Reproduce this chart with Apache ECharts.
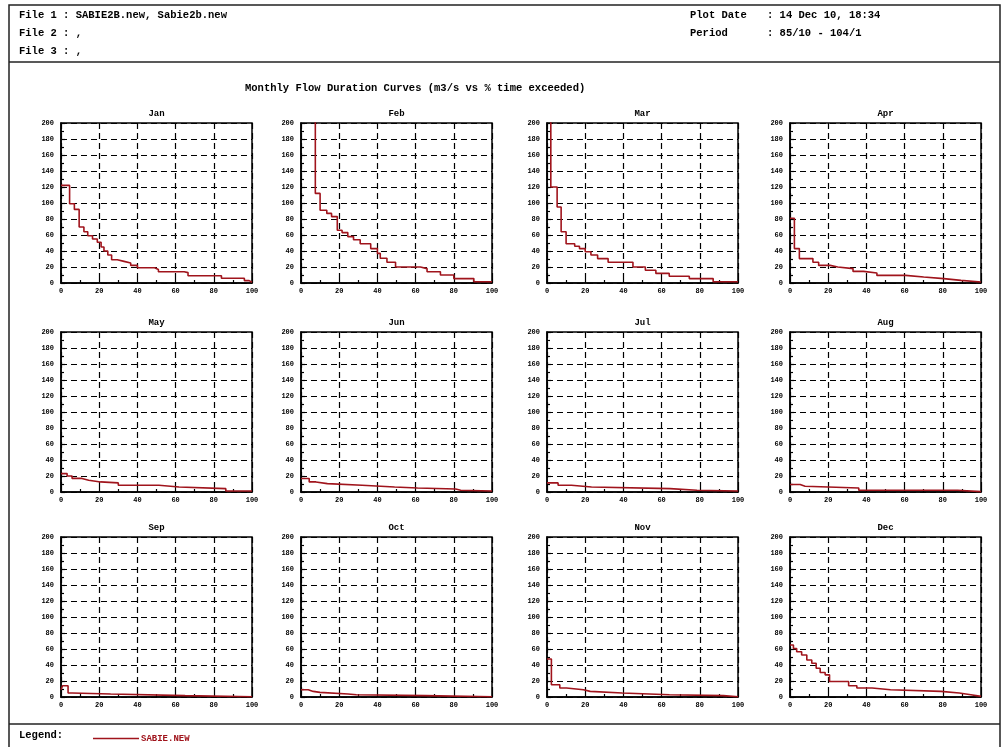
<!DOCTYPE html>
<html>
<head>
<meta charset="utf-8">
<title>Monthly Flow Duration Curves</title>
<script src="https://cdn.jsdelivr.net/npm/echarts@6/dist/echarts.min.js"></script>
<style>
  html, body { margin: 0; padding: 0; background: #fff; }
  #chart { width: 1006px; height: 747px; }
</style>
</head>
<body>
<div id="chart"></div>
<script>
// Flow duration data per month: [% time exceeded, flow m3/s], stepped curves
const janFlow = [[0,122],[4.5,99],[7,92],[9.5,70],[12,64],[14,59],[16.5,55],[19,51],[21,45],[22.5,40],[24.5,35],[26.5,29],[29.5,27],[33,25],[36.5,22],[40,19],[49,17],[51,14],[64.5,13],[66.5,9],[84,6],[96,3],[98.5,1],[100,1]];
const febFlow = [[0,260],[7.5,112],[10,91],[13.5,87],[16,83],[19,66],[21.5,63],[24.5,58],[27.5,54],[31,49],[36.5,43],[40,37],[41.5,31],[45,26],[49.5,20],[62.5,18],[66,14],[73,10],[80,5.5],[90.5,1.5],[100,1.5]];
const marFlow = [[0,260],[2,120],[5.3,95],[7.4,64],[10,49],[14.5,46],[17,43],[20,39],[23,35],[26.5,30.5],[32,26],[45,20],[51.5,16],[57,12],[64,8.5],[74.5,5.5],[87,1.5],[100,1.5]];
const aprFlow = [[0,81],[2.3,43],[4.9,30.5],[12,26],[15,22],[21,20],[25,18],[33,14.5],[38.5,12.5],[45.5,9.5],[60.5,7.5],[70,5.5],[80.5,3.3],[89.5,1.3],[100,1.3]];
const mayFlow = [[0,23],[3.2,20],[5.8,17],[11,14.7],[14.5,12.6],[20.7,11.4],[30,8.4],[51.3,6.3],[61.8,4.2],[86.3,1.3],[100,1.3]];
const junFlow = [[0,16.8],[4.3,12.6],[7.8,10.5],[13.8,8.4],[32,6.3],[49,5],[61,3.8],[81,2.1],[83.6,1.3],[100,1.3]];
const julFlow = [[0,11.4],[5.8,8.4],[12.8,6.3],[23.3,4.2],[64.4,2.1],[78.5,1.3],[100,1.3]];
const augFlow = [[0,9.3],[5.3,7.2],[7.9,5],[36,2.1],[87.7,0.5],[100,0.5]];
const sepFlow = [[0,9],[0.8,14],[3.7,5],[5.8,3.7],[26,1.7],[65,0.3],[100,0.3]];
const octFlow = [[0,9.1],[3.8,7],[6.4,5.8],[9.9,3.7],[24.6,2.9],[29,1.7],[65,0.3],[100,0.3]];
const novFlow = [[0,47.5],[2.3,15.3],[6.7,11.2],[10.2,9.1],[19.1,7],[22.6,5],[39.4,2.9],[64.1,1.7],[92.4,0.3],[100,0.3]];
const decFlow = [[0,65],[1.8,60.7],[3.5,56.6],[6.1,52.5],[8.8,46.3],[11.4,42.1],[13.7,36],[15.8,30.6],[18.4,27.7],[20.7,19.4],[30.7,14],[35,11.2],[43,9.1],[52.6,7],[79,5],[88.6,2.9],[94.7,0.8],[100,0.8]];

const months = ['Jan','Feb','Mar','Apr','May','Jun','Jul','Aug','Sep','Oct','Nov','Dec'];
const flows = [janFlow,febFlow,marFlow,aprFlow,mayFlow,junFlow,julFlow,augFlow,sepFlow,octFlow,novFlow,decFlow];
const seriesName = 'SABIE.NEW';

const headerLines = ['File 1 : SABIE2B.new, Sabie2b.new', 'File 2 : ,', 'File 3 : ,'];
const infoLabels = ['Plot Date', 'Period'];
const infoValues = [': 14 Dec 10, 18:34', ': 85/10 - 104/1'];
const mainTitle = 'Monthly Flow Duration Curves (m3/s vs % time exceeded)';

// panel layout
const colLeft = [61, 301, 547, 790];
const rowTop = [123, 332, 537];
const panelW = 191, panelH = 160;

const FONT = '"Liberation Mono", "DejaVu Sans Mono", monospace';
const RED = '#a0141c';

const grids = [], xAxes = [], yAxes = [], series = [], graphics = [];

months.forEach((m, i) => {
  const left = colLeft[i % 4];
  const top = rowTop[Math.floor(i / 4)];
  grids.push({ left, top, width: panelW, height: panelH, show: true,
    borderColor: '#000', borderWidth: 1.5, backgroundColor: 'transparent', containLabel: false });
  xAxes.push({ type: 'value', gridIndex: i, min: 0, max: 100, interval: 20,
    axisLine: { show: true, onZero: false, lineStyle: { color: '#000', width: 1.5 } },
    axisTick: { show: true, inside: true, length: 4, lineStyle: { color: '#000', width: 1.2 } },
    minorTick: { show: true, splitNumber: 2, length: 3, lineStyle: { color: '#000', width: 1.2 } },
    axisLabel: { fontSize: 7, fontWeight: 'bold', fontFamily: FONT, color: '#000', margin: 5 },
    splitLine: { show: true, lineStyle: { color: '#000', width: 1.2, type: [6, 4] } } });
  yAxes.push({ type: 'value', gridIndex: i, min: 0, max: 200, interval: 20,
    axisLine: { show: true, onZero: false, lineStyle: { color: '#000', width: 1.5 } },
    axisTick: { show: true, inside: true, length: 4, lineStyle: { color: '#000', width: 1.2 } },
    minorTick: { show: true, splitNumber: 2, length: 3, lineStyle: { color: '#000', width: 1.2 } },
    axisLabel: { fontSize: 7, fontWeight: 'bold', fontFamily: FONT, color: '#000', margin: 7 },
    splitLine: { show: true, lineStyle: { color: '#000', width: 1.2, type: [6, 4] } } });
  series.push({ name: seriesName, type: 'line', step: 'end', xAxisIndex: i, yAxisIndex: i,
    data: flows[i], showSymbol: false, symbol: 'none', clip: true, animation: false,
    lineStyle: { color: RED, width: 1.6 }, itemStyle: { color: RED } });
  graphics.push({ type: 'text', x: left + panelW / 2, y: top - 9,
    style: { text: m, font: 'bold 9px ' + FONT, fill: '#000', align: 'center', verticalAlign: 'middle' } });
});

// page frame and separators
graphics.push({ type: 'rect', shape: { x: 9, y: 5, width: 991, height: 760 },
  style: { fill: 'none', stroke: '#222', lineWidth: 1.5 } });
graphics.push({ type: 'line', shape: { x1: 9, y1: 62, x2: 1000, y2: 62 }, style: { stroke: '#222', lineWidth: 1.5 } });
graphics.push({ type: 'line', shape: { x1: 9, y1: 724, x2: 1000, y2: 724 }, style: { stroke: '#222', lineWidth: 1.5 } });

const HEAD_FONT = 'bold 10.5px ' + FONT;
headerLines.forEach((t, k) => {
  graphics.push({ type: 'text', x: 19, y: 15 + k * 18,
    style: { text: t, font: HEAD_FONT, fill: '#000', align: 'left', verticalAlign: 'middle' } });
});
infoLabels.forEach((t, k) => {
  graphics.push({ type: 'text', x: 690, y: 15 + k * 18,
    style: { text: t, font: HEAD_FONT, fill: '#000', align: 'left', verticalAlign: 'middle' } });
  graphics.push({ type: 'text', x: 767, y: 15 + k * 18,
    style: { text: infoValues[k], font: HEAD_FONT, fill: '#000', align: 'left', verticalAlign: 'middle' } });
});
graphics.push({ type: 'text', x: 245, y: 88,
  style: { text: mainTitle, font: HEAD_FONT, fill: '#000', align: 'left', verticalAlign: 'middle' } });
graphics.push({ type: 'text', x: 19, y: 735,
  style: { text: 'Legend:', font: HEAD_FONT, fill: '#000', align: 'left', verticalAlign: 'middle' } });

const chart = echarts.init(document.getElementById('chart'), null, { renderer: 'canvas' });
chart.setOption({
  backgroundColor: '#fff',
  animation: false,
  grid: grids,
  xAxis: xAxes,
  yAxis: yAxes,
  series: series,
  legend: { data: [seriesName], left: 88, top: 729, icon: 'rect', itemWidth: 46, itemHeight: 1.5,
    itemGap: 0, selectedMode: false,
    textStyle: { color: RED, fontSize: 9, fontWeight: 'bold', fontFamily: FONT, padding: [0, 0, 0, -3] } },
  graphic: graphics
});
</script>
</body>
</html>
